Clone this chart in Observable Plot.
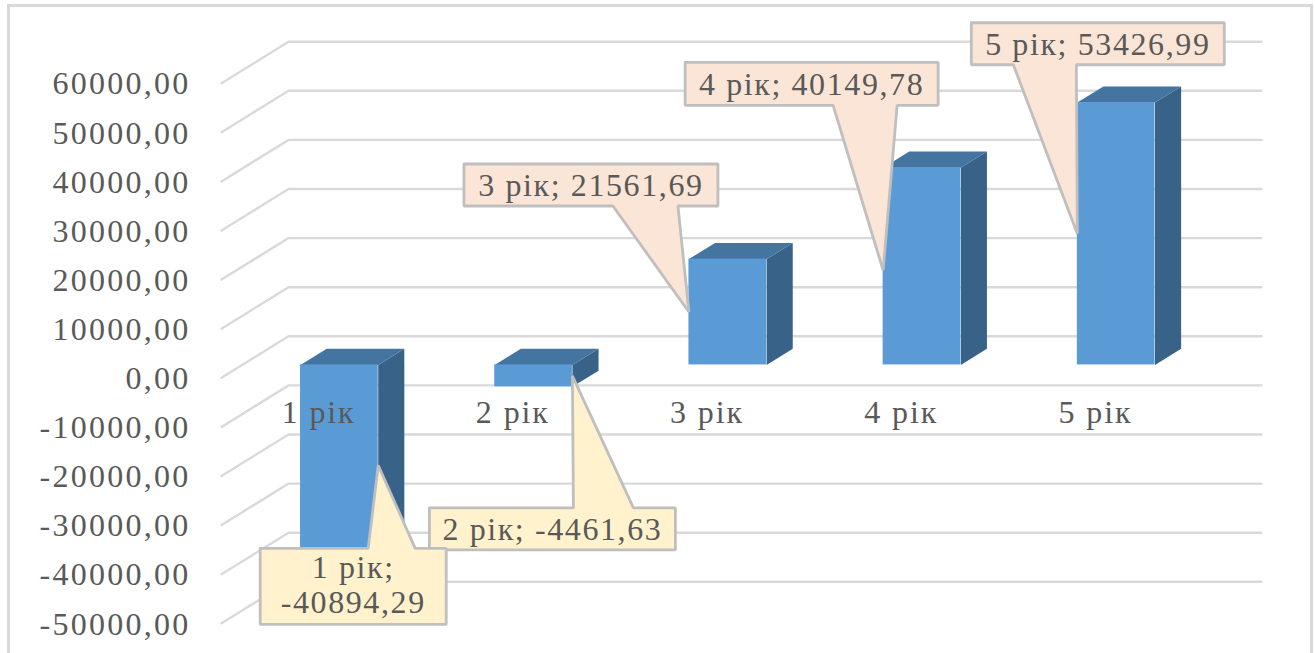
<!DOCTYPE html>
<html>
<head>
<meta charset="utf-8">
<script src="https://cdn.jsdelivr.net/npm/d3@7"></script>
<script src="https://cdn.jsdelivr.net/npm/@observablehq/plot@0.6"></script>
<style>
html,body{margin:0;padding:0;background:#fff;overflow:hidden;width:1315px;height:653px}
#frame{position:absolute;left:7px;top:4px;width:1300px;height:680px;border:3px solid #D9D9D9;box-sizing:content-box}
#chart{position:absolute;left:0;top:0}
</style>
</head>
<body>
<div id="frame"></div>
<div id="chart"></div>
<script>
// data
const categories = ["1 рік", "2 рік", "3 рік", "4 рік", "5 рік"];
const values = [-40894.29, -4461.63, 21561.69, 40149.78, 53426.99];
const ticks = [60000, 50000, 40000, 30000, 20000, 10000, 0, -10000, -20000, -30000, -40000, -50000];

// styling / layout
const gridColor = "#D9D9D9", textColor = "#595959", font = "Liberation Serif";
const frontColor = "#5B9BD5", topColor = "#4474A0", sideColor = "#386287";
const posFill = "#FBE5D6", negFill = "#FFF2CC", calloutStroke = "#BFBFBF";
const xRange = [221, 1192], yRange = [622.8, 82.7];
const xDomain = [0, 5], yDomain = [-50000, 60000];
const xUnit = (xDomain[1] - xDomain[0]) / (xRange[1] - xRange[0]);   // slots per pixel
const yUnit = (yDomain[1] - yDomain[0]) / (yRange[0] - yRange[1]);   // value per pixel
const depthX = 67 * xUnit, depthY = 41.5 * yUnit;                    // full depth of the 3-D floor
const barNear = 0.31, barFar = 0.70, barWidth = 0.4, gridEnd = 5.01;
// callout boxes, in pixels relative to the tip: [left, right, top, bottom, stemA, stemB, tipShift, textShift]
const calloutLayout = [
  [-118, 68, 83, 159, -10, 37, 0, -2],
  [-143, 103, 132, 174, 1, 61, 0, 0],
  [-225, 29, -148, -106, -76, -11, 0, 0],
  [-198, 55, -208, -165, -50, 14, 4, 0],
  [-106, 147, -211, -169, -64, -1, 0, 0]
];

const fmt = v => v.toFixed(2).replace(".", ",");
const project = (s, v, d) => ({x: s + depthX * d, y: v + depthY * d});
// widens the glyph run of a text mark, since the reference's text is slightly stretched
const spaced = px => (index, scales, channels, dims, context, next) => {
  const g = next(index, scales, channels, dims, context);
  g.style.letterSpacing = px + "px";
  return g;
};

const gridPts = ticks.flatMap((t, i) => [
  {id: i, ...project(0, t, 0)},
  {id: i, ...project(0, t, 1)},
  {id: i, ...project(gridEnd, t, 1)}
]);

const bars = values.map((v, i) => {
  const c = i + 0.5;
  return {i, v, l: project(c - barWidth / 2, 0, barNear).x, r: project(c + barWidth / 2, 0, barNear).x,
          top: Math.max(v, 0), bottom: Math.min(v, 0), base: depthY * barNear};
});
const dBar = barFar - barNear;
const sidePts = bars.flatMap(b => [
  {id: b.i, x: b.r, y: b.top + b.base},
  {id: b.i, x: b.r + depthX * dBar, y: b.top + b.base + depthY * dBar},
  {id: b.i, x: b.r + depthX * dBar, y: b.bottom + b.base + depthY * dBar},
  {id: b.i, x: b.r, y: b.bottom + b.base}
]);
const topPts = bars.flatMap(b => [
  {id: b.i, x: b.l, y: b.top + b.base},
  {id: b.i, x: b.l + depthX * dBar, y: b.top + b.base + depthY * dBar},
  {id: b.i, x: b.r + depthX * dBar, y: b.top + b.base + depthY * dBar},
  {id: b.i, x: b.r, y: b.top + b.base}
]);

// callouts: the tip sits at the middle of the bar's height
const callouts = bars.map(b => {
  const [l, r, t, bo, s1, s2, shift, textShift] = calloutLayout[b.i];
  const tipX = b.v < 0 ? b.r : b.l, tipY = b.v / 2 + b.base - shift * yUnit;
  const X = p => tipX + p * xUnit, Y = p => tipY - p * yUnit;
  let pts;
  if (b.v < 0) {
    pts = [[l, t], [s1, t], [0, 0], [s2, t], [r, t], [r, bo], [l, bo], [l, t]];
  } else {
    pts = [[l, t], [r, t], [r, bo], [s2, bo], [0, 0], [s1, bo], [l, bo], [l, t]];
  }
  return {
    i: b.i, v: b.v, textShift,
    pts: pts.map(([a, c]) => ({x: X(a), y: Y(c)})),
    cx: X((l + r) / 2), cy: Y((t + bo) / 2),
    label: b.i === 0 ? `${categories[b.i]};\n${fmt(b.v)}` : `${categories[b.i]}; ${fmt(b.v)}`
  };
});

const plot = Plot.plot({
  width: 1315, height: 653,
  marginLeft: 0, marginRight: 0, marginTop: 0, marginBottom: 0,
  x: {domain: xDomain, range: xRange, axis: null},
  y: {domain: yDomain, range: yRange, axis: null},
  style: {background: "transparent", fontFamily: font},
  marks: [
    Plot.line(gridPts, {x: "x", y: "y", z: "id", stroke: gridColor, strokeWidth: 2.4, curve: "linear"}),
    Plot.text(ticks, {x: () => 0, y: d => d, text: fmt, textAnchor: "end", dx: -31, dy: 1,
      fontSize: 32, fill: textColor, fontFamily: font, render: spaced(2.25)}),
    Plot.line(sidePts, {x: "x", y: "y", z: "id", fill: sideColor, stroke: "none"}),
    Plot.line(topPts, {x: "x", y: "y", z: "id", fill: topColor, stroke: "none"}),
    Plot.rect(bars, {x1: "l", x2: "r", y1: d => d.top + d.base, y2: d => d.bottom + d.base, fill: frontColor}),
    Plot.text(categories, {x: (d, i) => i + 0.5, y: () => 0, text: d => d, dy: 35,
      fontSize: 32, fill: textColor, fontFamily: font, render: spaced(1.9)}),
    ...[1, 0, 2, 3, 4].flatMap(k => {
      const c = callouts[k];
      return [
        Plot.line(c.pts, {x: "x", y: "y", fill: c.v < 0 ? negFill : posFill, stroke: calloutStroke,
          strokeWidth: 2.8, strokeLinejoin: "miter", curve: "linear"}),
        Plot.text([c], {x: "cx", y: "cy", text: "label", fontSize: 32, lineHeight: 1.09, dy: c.textShift,
          fill: textColor, fontFamily: font, render: spaced(1.6)})
      ];
    })
  ]
});
document.getElementById("chart").appendChild(plot);
</script>
</body>
</html>
